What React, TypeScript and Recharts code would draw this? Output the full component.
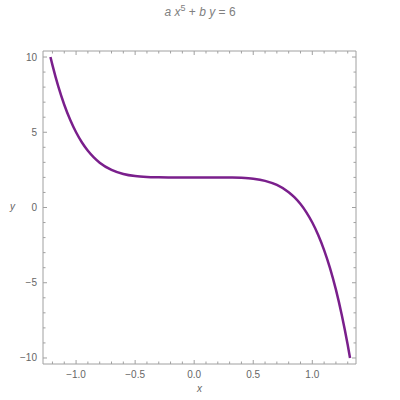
import { Line, LineChart, XAxis, YAxis } from 'recharts'

// points
const xs = [-1.217, -1.2, -1.15, -1.1, -1.05, -1.0, -0.95, -0.9, -0.85, -0.8, -0.7, -0.6, -0.5, -0.4, -0.3, -0.2, 0, 0.2, 0.3, 0.4, 0.5, 0.6, 0.7, 0.8, 0.85, 0.9, 0.95, 1.0, 1.05, 1.1, 1.15, 1.2, 1.25, 1.3, 1.3195]
const ys = [10.0, 9.46, 8.03, 6.83, 5.83, 5.0, 4.32, 3.77, 3.33, 2.98, 2.5, 2.23, 2.09, 2.03, 2.01, 2.0, 2.0, 2.0, 1.99, 1.97, 1.91, 1.77, 1.5, 1.02, 0.67, 0.23, -0.32, -1.0, -1.83, -2.83, -4.03, -5.46, -7.16, -9.14, -10.0]

const xMajor = [-1, -0.5, 0, 0.5, 1]
const xTicks = [-1.2, -1.1, -1, -0.9, -0.8, -0.7, -0.6, -0.5, -0.4, -0.3, -0.2, -0.1, 0, 0.1, 0.2, 0.3, 0.4, 0.5, 0.6, 0.7, 0.8, 0.9, 1, 1.1, 1.2, 1.3]
const yMajor = [-10, -5, 0, 5, 10]
const yTicks = [-10, -9, -8, -7, -6, -5, -4, -3, -2, -1, 0, 1, 2, 3, 4, 5, 6, 7, 8, 9, 10]

const data = xs.map((x, i) => ({ x, y: ys[i] }))

const frame = '#a0a0a0'
const labelColor = '#666'
const font = '"Liberation Sans", "DejaVu Sans", sans-serif'

const isMajor = (list: number[], v: number) => list.some(m => Math.abs(m - v) < 1e-9)
const fmtX = (v: number) => (v < 0 ? '\u2212' : '') + Math.abs(v).toFixed(1)
const fmtY = (v: number) => (v < 0 ? '\u2212' : '') + Math.abs(v)

const BottomTick = (p: any) => {
  const major = isMajor(xMajor, p.payload.value)
  return (
    <g>
      <line x1={p.x} x2={p.x} y1={p.y} y2={p.y - (major ? 4 : 2.5)} stroke={frame} />
      {major && (
        <text x={p.x} y={p.y + 14} textAnchor="middle" fontSize={10} fill={labelColor} fontFamily={font}>
          {fmtX(p.payload.value)}
        </text>
      )}
    </g>
  )
}

const TopTick = (p: any) => {
  const major = isMajor(xMajor, p.payload.value)
  return <line x1={p.x} x2={p.x} y1={p.y} y2={p.y + (major ? 4 : 2.5)} stroke={frame} />
}

const LeftTick = (p: any) => {
  const major = isMajor(yMajor, p.payload.value)
  return (
    <g>
      <line x1={p.x} x2={p.x + (major ? 4 : 2.5)} y1={p.y} y2={p.y} stroke={frame} />
      {major && (
        <text x={p.x - 6} y={p.y + 3.5} textAnchor="end" fontSize={10} fill={labelColor} fontFamily={font}>
          {fmtY(p.payload.value)}
        </text>
      )}
    </g>
  )
}

const RightTick = (p: any) => {
  const major = isMajor(yMajor, p.payload.value)
  return <line x1={p.x} x2={p.x - (major ? 4 : 2.5)} y1={p.y} y2={p.y} stroke={frame} />
}

export default function App() {
  return (
    <div style={{ position: 'absolute', left: 0, top: 0, width: 400, height: 400, background: '#fff' }}>
      <div style={{ position: 'absolute', top: 3, width: 400, textAlign: 'center', fontSize: 12, color: '#808080', fontFamily: font }}>
        <i>a</i> <i>x</i><sup style={{ fontSize: 9 }}>5</sup> + <i>b</i> <i>y</i> = 6
      </div>
      <LineChart width={400} height={400} data={data} margin={{ top: 50, left: 42, right: 43, bottom: 35 }}>
        <XAxis dataKey="x" type="number" domain={[-1.28, 1.37]} allowDataOverflow ticks={xTicks} interval={0}
          height={1} tickSize={0} tickMargin={0} stroke={frame} tick={BottomTick} />
        <XAxis xAxisId="top" dataKey="x" orientation="top" type="number" domain={[-1.28, 1.37]} allowDataOverflow ticks={xTicks} interval={0}
          height={1} tickSize={0} tickMargin={0} stroke={frame} tick={TopTick} />
        <YAxis type="number" domain={[-10.4, 10.4]} allowDataOverflow ticks={yTicks} interval={0}
          width={1} tickSize={0} tickMargin={0} stroke={frame} tick={LeftTick} />
        <YAxis yAxisId="right" orientation="right" type="number" domain={[-10.4, 10.4]} allowDataOverflow ticks={yTicks} interval={0}
          width={1} tickSize={0} tickMargin={0} stroke={frame} tick={RightTick} />
        <Line dataKey="y" type="monotone" stroke="#7a1f8c" strokeWidth={2.5} dot={false} isAnimationActive={false} />
      </LineChart>
      <div style={{ position: 'absolute', left: 10, top: 201, fontSize: 10, color: labelColor, fontFamily: font, fontStyle: 'italic' }}>y</div>
      <div style={{ position: 'absolute', left: 197, top: 383, fontSize: 10, color: labelColor, fontFamily: font, fontStyle: 'italic' }}>x</div>
    </div>
  )
}
